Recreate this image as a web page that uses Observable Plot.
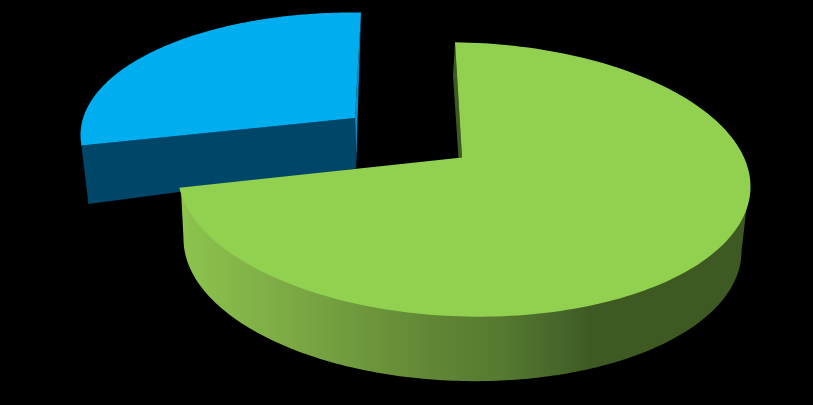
<!DOCTYPE html>
<html>
<head>
<meta charset="utf-8">
<style>html,body{margin:0;padding:0;background:#000;overflow:hidden}svg{display:block}</style>
<script src="https://cdn.jsdelivr.net/npm/d3@7"></script>
<script src="https://cdn.jsdelivr.net/npm/@observablehq/plot@0.6"></script>
</head>
<body>
<script>
// Data: share of the pie (percent)
const sliceNames = ["Green", "Blue"];
const sliceShares = [73.7, 26.3];

// Colours
const greenTop = "#92d050", greenWall = "#3e5a22";
const blueTop = "#00aeef", blueFront = "#004668", blueWall = "#0090c6";
const sideStops = [[0, "#8cc44d"], [0.29, "#7aa743"], [0.61, "#618735"], [0.78, "#557a30"], [0.93, "#46652a"], [1, "#3e5a22"]];

// 3-D layout of the two wedges (ellipse of the top face, ellipse of the base, apex)
const greenLayout = {start: -91.8, top: {cx: 463.5, cy: 179, rx: 286.5, ry: 137, tilt: 0.025}, base: {cx: 462, cy: 244.5, rx: 279, ry: 136, tilt: 0.022}, apex: [461.5, 157], wall: [-3.5, 0.5], wallOuter: [-2, 33]};
const blueLayout = {start: -90, top: {cx: 360.5, cy: 138, rx: 280.5, ry: 126, tilt: 0.012}, apex: [354.5, 117.5], depthOuter: [7, 58.5], depthInner: [1, 50.5]};

const rad = Math.PI / 180;
const onEllipse = (e, deg) => {
  const x = e.cx + e.rx * Math.cos(deg * rad);
  return {x, y: e.cy + e.ry * Math.sin(deg * rad) + e.tilt * (x - e.cx)};
};
const arc = (e, a, b) => d3.range(0, 181).map(i => onEllipse(e, a + (b - a) * i / 180));
const pt = ([x, y]) => ({x, y});
const shift = (p, [dx, dy]) => ({x: p.x + dx, y: p.y + dy});

const sweep = s => s / d3.sum(sliceShares) * 360;
const greenEnd = greenLayout.start + sweep(sliceShares[0]);
const blueEnd = blueLayout.start - sweep(sliceShares[1]);

// Faces (the side wall starts slightly inside the top face so no dark seam shows)
const gApex = pt(greenLayout.apex), bApex = pt(blueLayout.apex);
const gTop = [gApex, ...arc(greenLayout.top, greenLayout.start, greenEnd)];
const sideInner = {...greenLayout.top, rx: greenLayout.top.rx - 1.5, ry: greenLayout.top.ry - 3};
const gSide = [...arc(sideInner, 0, greenEnd), ...arc(greenLayout.base, 180, 0)];
const gStart = onEllipse(greenLayout.top, greenLayout.start);
const gWall = [gStart, gApex, shift(gApex, greenLayout.wall), shift(gStart, greenLayout.wallOuter)];
const bTop = [bApex, ...arc(blueLayout.top, blueLayout.start, blueEnd)];
const bOuter = onEllipse(blueLayout.top, blueEnd);
const bFront = [bOuter, bApex, shift(bApex, blueLayout.depthInner), shift(bOuter, blueLayout.depthOuter)];
const bWall = [onEllipse(blueLayout.top, blueLayout.start), bApex, shift(bApex, blueLayout.depthInner)];

const face = (pts, fill) => Plot.line(pts, {x: "x", y: "y", fill, stroke: "none", curve: "linear"});

const chart = Plot.plot({
  width: 813,
  height: 405,
  margin: 0,
  style: {background: "#000"},
  x: {domain: [0, 813], range: [0, 813], axis: null},
  y: {domain: [0, 405], range: [0, 405], axis: null},
  marks: [
    () => {
      const defs = d3.create("svg:defs");
      const g = defs.append("linearGradient").attr("id", "greenSide")
        .attr("gradientUnits", "userSpaceOnUse")
        .attr("x1", 180).attr("x2", 590).attr("y1", 0).attr("y2", 0);
      sideStops.forEach(([o, c]) => g.append("stop").attr("offset", o).attr("stop-color", c));
      return defs.node();
    },
    face(bWall, blueWall),
    face(bFront, blueFront),
    face(bTop, blueTop),
    face(gSide, "url(#greenSide)"),
    face(gWall, greenWall),
    face(gTop, greenTop)
  ]
});
document.body.append(chart);
</script>
</body>
</html>
